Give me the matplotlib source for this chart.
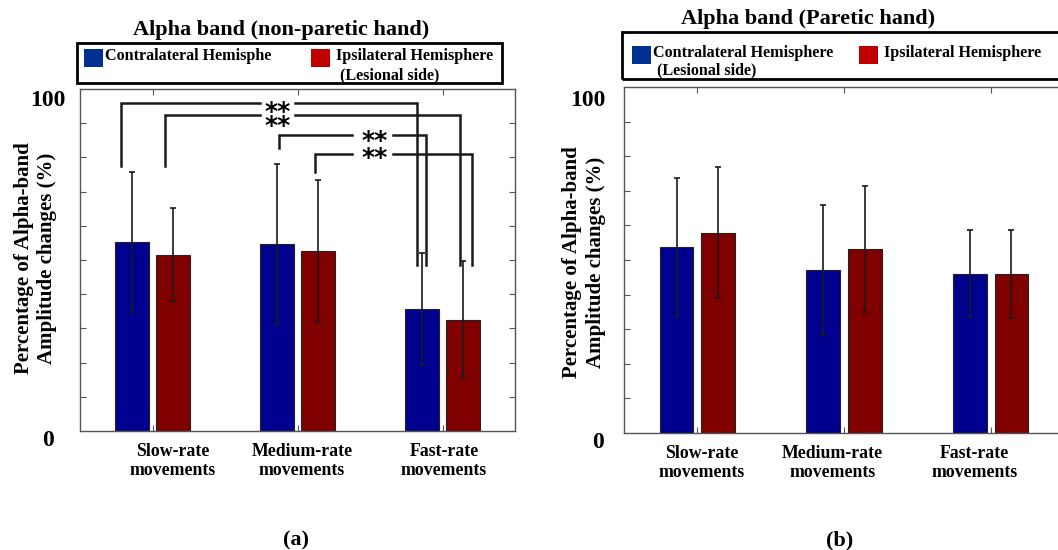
import numpy as np
import matplotlib
matplotlib.use("Agg")
import matplotlib.pyplot as plt
from matplotlib.patches import Rectangle

plt.rcParams['font.family'] = ['Liberation Serif', 'DejaVu Serif']
plt.rcParams['font.weight'] = 'bold'

# Alpha-band amplitude change (%) per movement rate
groups = ['Slow-rate\nmovements', 'Medium-rate\nmovements', 'Fast-rate\nmovements']
nonparetic_contra = [55.3, 54.7, 35.7]
nonparetic_contra_err = [20.5, 23.5, 16.3]
nonparetic_ipsi = [51.6, 52.6, 32.6]
nonparetic_ipsi_err = [13.7, 20.8, 17.0]

paretic_contra = [53.8, 47.1, 46.0]
paretic_contra_err = [20.0, 18.7, 12.6]
paretic_ipsi = [57.9, 53.2, 46.0]
paretic_ipsi_err = [19.0, 18.3, 12.7]

# significance brackets: left leg (x, y), right leg (x, y), bar height
brackets = [
    (0.786, 77.5, 2.823, 48.5, 96.0),
    (1.083, 77.5, 3.122, 48.5, 92.5),
    (1.873, 82.8, 2.885, 48.5, 86.6),
    (2.122, 75.8, 3.205, 48.5, 81.0),
]
# gap in each bracket line where the stars sit
gaps = [(1.740, 1.982), (1.740, 1.982), (2.373, 2.661), (2.373, 2.661)]
# stacked star pairs: x, lower star centre, line step (px)
star_pairs = [(1.866, 91.4, 14.4), (2.53, 82.2, 18.0)]

BAR_BLUE = '#00008F'
BAR_RED = '#800000'
LEG_BLUE = '#003091'
LEG_RED = '#C00000'

W, H = 1058, 550
fig = plt.figure(figsize=(W / 100, H / 100), dpi=100)


def fx(x):
    return x / W


def fy(y):
    return 1 - y / H


def make_axes(rect, contra, contra_err, ipsi, ipsi_err):
    ax = fig.add_axes(rect)
    x = np.arange(1, len(groups) + 1)
    w = 0.23
    ax.bar(x - 0.142, contra, w, color=BAR_BLUE, edgecolor='#222222', linewidth=0.8)
    ax.bar(x + 0.142, ipsi, w, color=BAR_RED, edgecolor='#222222', linewidth=0.8)
    ax.errorbar(x - 0.142, contra, yerr=contra_err, fmt='none', ecolor='#1a1a1a',
                elinewidth=1.2, capsize=2.5, capthick=1.2)
    ax.errorbar(x + 0.142, ipsi, yerr=ipsi_err, fmt='none', ecolor='#1a1a1a',
                elinewidth=1.2, capsize=2.5, capthick=1.2)
    ax.set_xlim(0.5, 3.5)
    ax.set_ylim(0, 100)
    ax.set_xticks(x)
    ax.set_xticklabels([])
    ax.set_yticks(np.arange(10, 100, 10))
    ax.set_yticklabels([])
    ax.tick_params(direction='in', top=True, right=True, length=4, color='#555555')
    for s in ax.spines.values():
        s.set_color('#555555')
        s.set_linewidth(1.0)
    return ax


axL = make_axes([fx(80), fy(431), fx(435), (431 - 89) / H],
                nonparetic_contra, nonparetic_contra_err,
                nonparetic_ipsi, nonparetic_ipsi_err)
axR = make_axes([fx(624), fy(433), fx(440), (433 - 87) / H],
                paretic_contra, paretic_contra_err,
                paretic_ipsi, paretic_ipsi_err)

# significance brackets, split around the stars
for (x0, y0, x1, y1, top), (g0, g1) in zip(brackets, gaps):
    kw = dict(color='#1a1a1a', lw=1.8, clip_on=False, solid_joinstyle='miter')
    axL.plot([x0, x0, g0], [y0, top, top], **kw)
    axL.plot([g1, x1, x1], [top, top, y1], **kw)

STAR_FS = 18
star_px = STAR_FS * 100 / 72
for sx, sy, step in star_pairs:
    axL.annotate('**\n**', (sx, sy), xytext=(0, -0.6 * STAR_FS), textcoords='offset points',
                 ha='center', va='baseline', ma='center', fontsize=STAR_FS,
                 linespacing=step / (1.17 * star_px),
                 family='DejaVu Sans', fontweight='bold', annotation_clip=False)

# group labels under each axes
for ax, xs in ((axL, [1.14, 2.03, 3.01]), (axR, [1.03, 1.92, 2.89])):
    for xi, lab in zip(xs, groups):
        ax.text(xi, -3.5, lab, ha='center', va='top', fontsize=12.8,
                fontweight='bold', linespacing=1.18, clip_on=False)

# titles
fig.text(fx(281), fy(30), 'Alpha band (non-paretic hand)', ha='center', va='center',
         fontsize=16, fontweight='bold')
fig.text(fx(808), fy(19), 'Alpha band (Paretic hand)', ha='center', va='center',
         fontsize=16, fontweight='bold')

# y-axis labels and end values
ylab = 'Percentage of Alpha-band\nAmplitude changes (%)'
fig.text(fx(36), fy(258), ylab, rotation=90, ha='center', va='center',
         fontsize=15, fontweight='bold', linespacing=1.2)
fig.text(fx(584), fy(262), ylab, rotation=90, ha='center', va='center',
         fontsize=15, fontweight='bold', linespacing=1.2)
for x, y, s in ((48, 100, '100'), (48, 440, '0'), (588, 101, '100'), (598, 443, '0')):
    fig.text(fx(x), fy(y), s, ha='center', va='center', fontsize=17, fontweight='bold')

# panel tags
fig.text(fx(296), fy(540), '(a)', ha='center', va='center', fontsize=16, fontweight='bold')
fig.text(fx(840), fy(540), '(b)', ha='center', va='center', fontsize=16, fontweight='bold')


# legends drawn as framed boxes above each panel
def legend_box(x0, y0, x1, y1):
    fig.patches.append(Rectangle((fx(x0), fy(y1)), fx(x1 - x0), (y1 - y0) / H,
                                 transform=fig.transFigure, fill=False,
                                 edgecolor='black', linewidth=2.0))


def legend_entry(x, y, color, label, spacing):
    fig.patches.append(Rectangle((fx(x), fy(y + 18)), fx(19), 18 / H,
                                 transform=fig.transFigure, facecolor=color,
                                 edgecolor='none'))
    fig.text(fx(x + 21), fy(y - 1), label, ha='left', va='top', fontsize=11.6,
             fontweight='bold', linespacing=spacing)


legend_box(77, 43, 502, 83)
legend_entry(84, 49, LEG_BLUE, 'Contralateral Hemisphe', 1.3)
legend_entry(311, 49, LEG_RED, ' Ipsilateral Hemisphere\n  (Lesional side)', 1.3)

legend_box(622, 32, 1070, 79)
legend_entry(632, 46, LEG_BLUE, 'Contralateral Hemisphere\n (Lesional side)', 1.1)
legend_entry(859, 46, LEG_RED, ' Ipsilateral Hemisphere', 1.1)

fig.savefig('out.png', dpi=100)
